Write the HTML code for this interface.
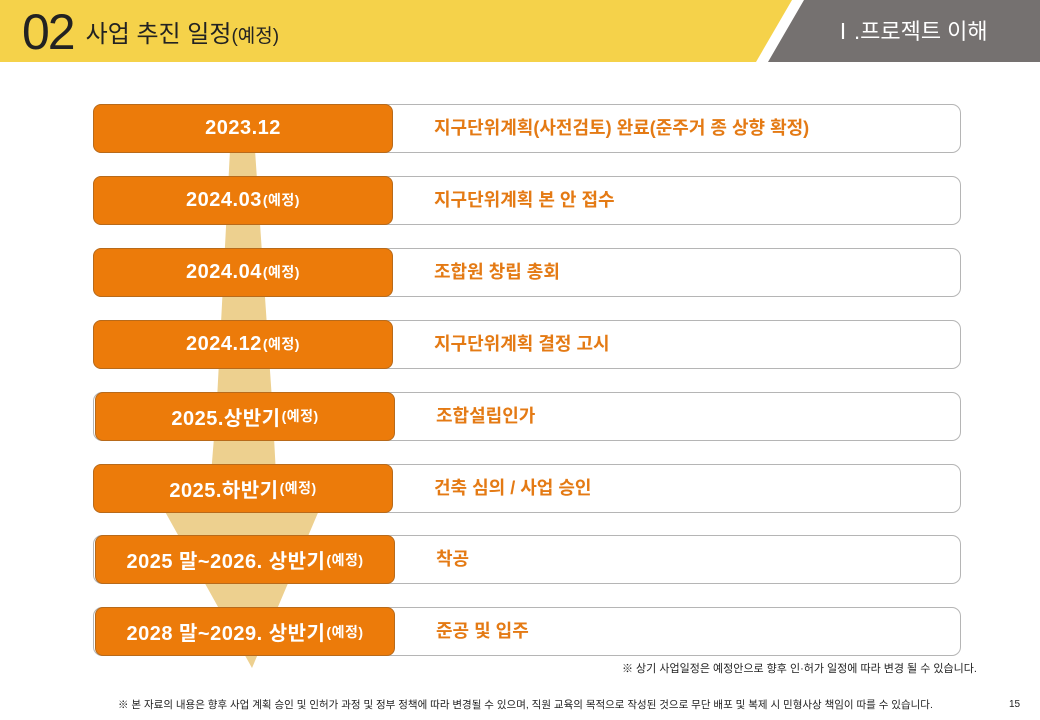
<!DOCTYPE html>
<html><head><meta charset="utf-8">
<style>
html,body{margin:0;padding:0}
body{width:1040px;height:720px;position:relative;overflow:hidden;background:#fff;font-family:"Liberation Sans","Noto Sans CJK KR",sans-serif}
.hdr-title{position:absolute;left:22px;top:2px;height:60px;display:flex;align-items:flex-end;color:#222}
.num{font-size:50px;line-height:60px;letter-spacing:-2px}
.ttl{font-size:24px;margin-left:12px;line-height:50px}
.ttl small{font-size:19px}
.sec{position:absolute;left:832px;top:14px;font-size:22px;color:#fff;letter-spacing:0px}
.row{position:absolute;height:49px}
.wbox{position:absolute;left:0;top:0;height:47px;border:1px solid #b5b5b5;border-radius:9px;background:#fff;box-sizing:content-box}
.obox{position:absolute;top:0;height:47px;border:1px solid #b86a1a;border-radius:8px;background:#ec7b0a;color:#fff;font-weight:bold;font-size:20px;display:flex;align-items:center;justify-content:center;white-space:nowrap;letter-spacing:0.5px}
.obox small{font-size:14px;font-weight:bold;margin-left:1px}
.desc{position:absolute;top:0;height:49px;line-height:49px;color:#e47a14;font-weight:bold;font-size:18px;white-space:nowrap}
.note{position:absolute;font-size:11px;color:#222;white-space:nowrap}
</style></head><body>
<svg width="1040" height="64" style="position:absolute;left:0;top:0">
<polygon points="0,0 792,0 756,62 0,62" fill="#f5d24a"/>
<polygon points="804,0 1040,0 1040,62 768,62" fill="#757170"/>
</svg>
<div class="hdr-title"><span class="num">02</span><span class="ttl">사업 추진 일정<small>(예정)</small></span></div>
<div class="sec">Ⅰ.프로젝트 이해</div>
<svg width="1040" height="720" style="position:absolute;left:0;top:0">
<polygon points="230,150 255,150 272,400 278,512 320,508 252,668 163,508 208,512 217,400" fill="#edd08f"/>
</svg>
<div id="rows"></div>
<div class="note" style="left:622px;top:660px">※ 상기 사업일정은 예정안으로 향후 인·허가 일정에 따라 변경 될 수 있습니다.</div>
<div class="note" style="left:118px;top:697px;font-size:10.5px">※ 본 자료의 내용은 향후 사업 계획 승인 및 인허가 과정 및 정부 정책에 따라 변경될 수 있으며, 직원 교육의 목적으로 작성된 것으로 무단 배포 및 복제 시 민형사상 책임이 따를 수 있습니다.</div>
<div class="note" style="left:1009px;top:699px;font-size:10px">15</div>
<script>
const labels=["2023.12","2024.03","2024.04","2024.12","2025.상반기","2025.하반기","2025 말~2026. 상반기","2028 말~2029. 상반기"];
const sublabels=["","(예정)","(예정)","(예정)","(예정)","(예정)","(예정)","(예정)"];
const descs=["지구단위계획(사전검토) 완료(준주거 종 상향 확정)","지구단위계획 본 안 접수","조합원 창립 총회","지구단위계획 결정 고시","조합설립인가","건축 심의 / 사업 승인","착공","준공 및 입주"];
const host=document.getElementById('rows');
labels.forEach((l,i)=>{
  const r=document.createElement('div');
  r.className='row';
  
  
  const shift=(i===4||i>=6)?2:0;
  r.style.left='93px';r.style.top=(104+i*71.9)+'px';r.style.width='868px';
  const w=document.createElement('div');w.className='wbox';w.style.width='866px';
  
  
  const o=document.createElement('div');o.className='obox';o.style.left=shift+'px';o.style.width='298px';
  
  
  o.innerHTML=l+(sublabels[i]?'<small>'+sublabels[i]+'</small>':'');
  const d=document.createElement('div');d.className='desc';d.style.left=(341+shift)+'px';
  
  
  d.textContent=descs[i];
  r.appendChild(w);r.appendChild(o);r.appendChild(d);host.appendChild(r);
});
</script>
</body></html>
